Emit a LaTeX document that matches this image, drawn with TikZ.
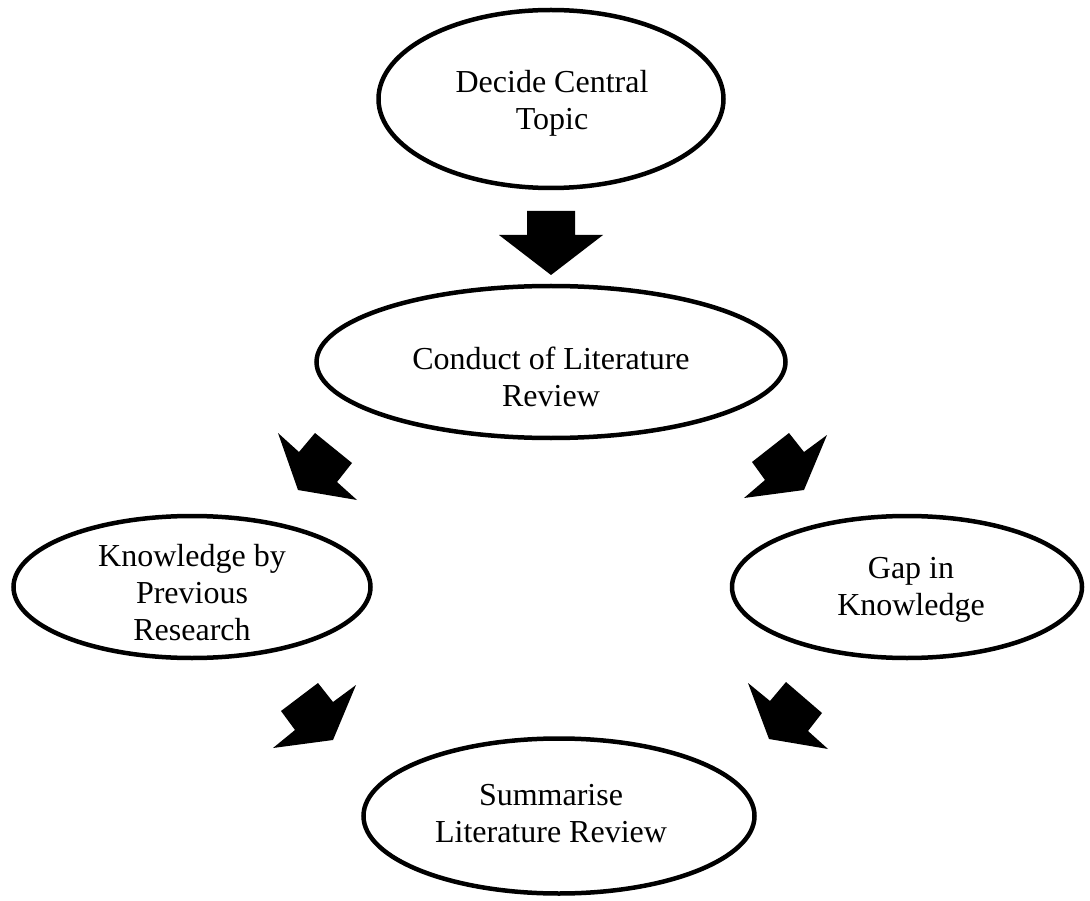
\documentclass[tikz,border=0pt]{standalone}
\usepackage{fontspec}
\setmainfont{Liberation Serif}
\usetikzlibrary{shapes.geometric}
\begin{document}
\begin{tikzpicture}[x=1pt,y=-1pt,
  oval/.style={draw=black,line width=4.5pt,ellipse,inner sep=0pt,fill=white},
  txt/.style={align=center,font=\fontsize{32}{37}\selectfont,inner sep=0pt},
  blockarrow/.style={fill=black,draw=none}]
\useasboundingbox (0,0) rectangle (1090,901);
% ellipses
\node[oval,minimum width=345pt,minimum height=178pt] (topic) at (551,99) {};
\node[oval,minimum width=469pt,minimum height=152pt] (conduct) at (551,362) {};
\node[oval,minimum width=357pt,minimum height=142pt] (know) at (192,587) {};
\node[oval,minimum width=350pt,minimum height=142pt] (gap) at (907,587) {};
\node[oval,minimum width=391pt,minimum height=155pt] (summ) at (559,816) {};
% texts
\node[txt] (topicT) at (552,103) {Decide Central\\Topic};
\node[txt] (conductT) at (551,377) {Conduct of Literature\\Review};
\node[txt] (knowT) at (192,593) {Knowledge by\\Previous\\Research};
\node[txt] (gapT) at (911,590) {Gap in\\Knowledge};
\node[txt] (summT) at (551,814) {Summarise\\Literature Review};
% block arrows
\fill[blockarrow] (527,211) -- (575,211) -- (575,235) -- (603,235) -- (551,275) -- (499,235) -- (527,235) -- cycle;
\fill[blockarrow] (315,433) -- (352,463) -- (337,482) -- (357,500) -- (298,490) -- (278,433) -- (299,452) -- cycle;
\fill[blockarrow] (789,433) -- (804,452) -- (827,435) -- (804,490) -- (744,498) -- (765,480) -- (752,462) -- cycle;
\fill[blockarrow] (318,683) -- (333,702) -- (356,685) -- (333,740) -- (273,748) -- (295,730) -- (281,711) -- cycle;
\fill[blockarrow] (786,682) -- (822,713) -- (808,731) -- (828,749) -- (769,739) -- (748,683) -- (770,701) -- cycle;
\end{tikzpicture}
\end{document}
